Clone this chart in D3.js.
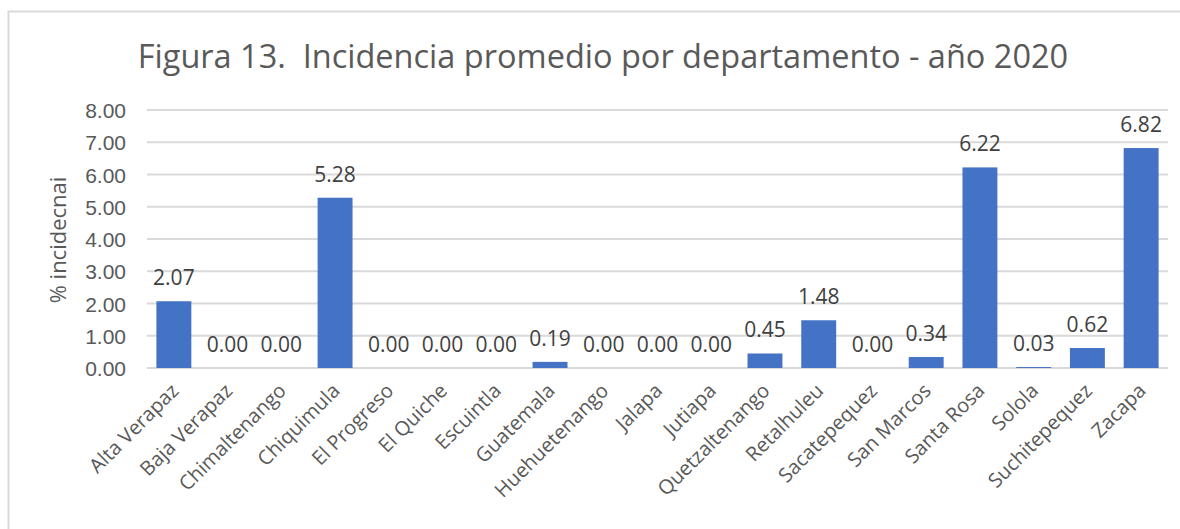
<!DOCTYPE html>
<html lang="es">
<head>
<meta charset="UTF-8">
<title>Incidencia promedio por departamento</title>
<script src="https://d3js.org/d3.v7.min.js"></script>
<style>
    body { margin: 0; background: #fff; font-family: "Open Sans", "Noto Sans", sans-serif; }
    .grid line { stroke: #d9d9d9; stroke-width: 2px; }
    .tick text { fill: #595959; }
</style>
</head>
<body>
<div id="chart"></div>
<script>
    const departamentos = ["Alta Verapaz", "Baja Verapaz", "Chimaltenango", "Chiquimula", "El Progreso",
        "El Quiche", "Escuintla", "Guatemala", "Huehuetenango", "Jalapa", "Jutiapa", "Quetzaltenango",
        "Retalhuleu", "Sacatepequez", "San Marcos", "Santa Rosa", "Solola", "Suchitepequez", "Zacapa"];
    const incidencia = [2.07, 0.00, 0.00, 5.28, 0.00, 0.00, 0.00, 0.19, 0.00, 0.00, 0.00, 0.45,
        1.48, 0.00, 0.34, 6.22, 0.03, 0.62, 6.82];
    const yTicks = [0, 1, 2, 3, 4, 5, 6, 7, 8];

    const W = 1180, H = 529;
    const plot = {left: 147, right: 1168, top: 110, bottom: 368};

    const svg = d3.select("#chart").append("svg")
        .attr("width", W).attr("height", H);

    // marco del grafico
    svg.append("rect")
        .attr("x", 8.5).attr("y", 11.5)
        .attr("width", W).attr("height", H)
        .attr("fill", "#fff").attr("stroke", "#d9d9d9").attr("stroke-width", 2);

    svg.append("text")
        .attr("x", 603).attr("y", 68)
        .attr("text-anchor", "middle")
        .attr("fill", "#595959")
        .style("font-size", "32.5px")
        .style("white-space", "pre")
        .text("Figura 13.  Incidencia promedio por departamento - año 2020");

    const x = d3.scaleBand().domain(departamentos).range([plot.left, plot.right]).paddingInner(0.35).paddingOuter(0.175);
    const y = d3.scaleLinear().domain([0, 8]).range([plot.bottom, plot.top]);

    // lineas de cuadricula
    svg.append("g").attr("class", "grid")
        .selectAll("line").data(yTicks).enter().append("line")
        .attr("x1", plot.left).attr("x2", plot.right)
        .attr("y1", d => y(d)).attr("y2", d => y(d));

    const yAxis = svg.append("g")
        .attr("transform", `translate(${plot.left},0)`)
        .call(d3.axisLeft(y).tickValues(yTicks).tickFormat(d3.format(".2f")).tickSize(0).tickPadding(21));
    yAxis.select(".domain").remove();
    yAxis.selectAll("text").style("font-size", "21px").attr("dy", "0.36em");

    svg.append("text")
        .attr("transform", `translate(66,240) rotate(-90)`)
        .attr("text-anchor", "middle")
        .attr("fill", "#595959")
        .style("font-size", "22px")
        .text("% incidecnai");

    // barras
    svg.append("g").selectAll("rect")
        .data(departamentos).enter().append("rect")
        .attr("x", d => x(d))
        .attr("width", x.bandwidth())
        .attr("y", (d, i) => y(incidencia[i]))
        .attr("height", (d, i) => y(0) - y(incidencia[i]))
        .attr("fill", "#4472c4");

    // etiquetas de datos
    svg.append("g").selectAll("text")
        .data(departamentos).enter().append("text")
        .attr("x", d => x(d) + x.bandwidth() / 2)
        .attr("y", (d, i) => y(incidencia[i]) - 16)
        .attr("text-anchor", "middle")
        .attr("fill", "#404040")
        .style("font-size", "21px")
        .text((d, i) => d3.format(".2f")(incidencia[i]));

    // etiquetas del eje x
    svg.append("g").selectAll("text")
        .data(departamentos).enter().append("text")
        .attr("transform", d => `translate(${x(d) + x.bandwidth() / 2 + 6},${plot.bottom + 24}) rotate(-45)`)
        .attr("text-anchor", "end")
        .attr("fill", "#595959")
        .style("font-size", "20px")
        .text(d => d);
</script>
</body>
</html>
